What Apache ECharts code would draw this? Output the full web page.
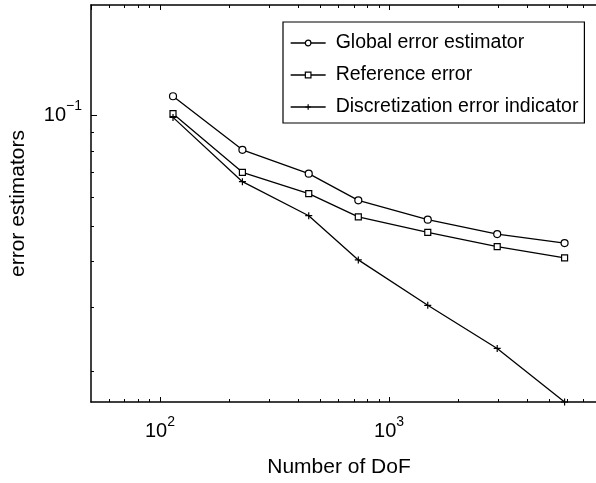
<!DOCTYPE html>
<html>
<head>
<meta charset="utf-8">
<script src="https://cdn.jsdelivr.net/npm/echarts@6/dist/echarts.min.js"></script>
<style>
html, body { margin: 0; padding: 0; background: #fff; }
#chart { width: 596px; height: 483px; }
</style>
</head>
<body>
<div id="chart"></div>
<script>
// values (log-log)
const dof = [114, 229, 446, 734, 1475, 2964, 5834];
const globalEst = [0.1127, 0.0805, 0.0693, 0.0586, 0.0519, 0.0474, 0.0448];
const referenceErr = [0.101, 0.0699, 0.0611, 0.0528, 0.0479, 0.0438, 0.0408];
const discretization = [0.0987, 0.0659, 0.0532, 0.0403, 0.0303, 0.0231, 0.0165];
const seriesNames = ['Global error estimator', 'Reference error', 'Discretization error indicator'];

// minor ticks (log axes)
const xMinorTicks = [60, 70, 80, 90, 200, 300, 400, 500, 600, 700, 800, 900, 2000, 3000, 4000, 5000, 6000, 7000];
const yMinorTicks = [0.02, 0.03, 0.04, 0.05, 0.06, 0.07, 0.08, 0.09];

const X_MIN = 50, X_MAX = 8000;
const Y_MIN = 0.0165, Y_MAX = 0.2;
const FONT = '"Liberation Sans", Arial, Helvetica, sans-serif';

const chart = echarts.init(document.getElementById('chart'));

function powLabel(v) {
  const lg = Math.log10(v);
  const e = Math.round(lg);
  if (Math.abs(lg - e) > 1e-6) return '';
  return '{b|10}{s|' + (e < 0 ? '\u2212' + (-e) : e) + '}';
}

const richLabel = {
  b: { fontSize: 20, fontFamily: FONT, color: '#000', lineHeight: 32, verticalAlign: 'middle' },
  s: { fontSize: 14, fontFamily: FONT, color: '#000', lineHeight: 14, verticalAlign: 'top' },
};

function xTickItem(params, api) {
  const b = api.coord([api.value(0), Y_MIN]);
  const t = api.coord([api.value(0), Y_MAX]);
  const x = Math.round(b[0]) + 0.5;
  return {
    type: 'group',
    children: [
      { type: 'line', shape: { x1: x, y1: b[1], x2: x, y2: b[1] - 3 }, style: { stroke: '#000', lineWidth: 1 } },
      { type: 'line', shape: { x1: x, y1: t[1], x2: x, y2: t[1] + 3 }, style: { stroke: '#000', lineWidth: 1 } },
    ],
  };
}

function yTickItem(params, api) {
  const p = api.coord([X_MIN, api.value(1)]);
  const y = Math.round(p[1]) + 0.5;
  return {
    type: 'line',
    shape: { x1: p[0], y1: y, x2: p[0] + 3, y2: y },
    style: { stroke: '#000', lineWidth: 1 },
  };
}

const lineBase = {
  type: 'line',
  xAxisIndex: 0,
  yAxisIndex: 0,
  symbolSize: 7,
  clip: false,
  z: 3,
  lineStyle: { color: '#000', width: 1.3 },
};

const option = {
  animation: false,
  backgroundColor: '#fff',
  textStyle: { fontFamily: FONT },
  grid: { left: 89, right: -3, top: 5, bottom: 81 },
  legend: {
    data: seriesNames,
    orient: 'vertical',
    left: 283,
    top: 22,
    padding: [11, 6, 6, 7],
    itemGap: 12,
    itemWidth: 35,
    itemHeight: 7,
    borderColor: '#000',
    borderWidth: 1.2,
    backgroundColor: '#fff',
    selectedMode: false,
    itemStyle: { borderWidth: 1.2 },
    lineStyle: { width: 1.3 },
    textStyle: { fontSize: 19.5, fontFamily: FONT, color: '#000', lineHeight: 20, padding: [0, 0, 0, 5] },
  },
  xAxis: [
    {
      type: 'log',
      min: X_MIN,
      max: X_MAX,
      position: 'bottom',
      name: 'Number of DoF',
      nameLocation: 'middle',
      nameGap: 55,
      nameTextStyle: { fontSize: 21, fontFamily: FONT, color: '#000', padding: [0, 9, 0, 0] },
      axisLine: { lineStyle: { color: '#000', width: 1.5 } },
      axisTick: { inside: true, length: 5, lineStyle: { color: '#000' } },
      axisLabel: { margin: 13, formatter: powLabel, rich: richLabel, showMinLabel: false, showMaxLabel: false },
      splitLine: { show: false },
    },
    {
      type: 'log',
      min: X_MIN,
      max: X_MAX,
      position: 'top',
      axisLine: { lineStyle: { color: '#000', width: 1.5 } },
      axisTick: { inside: true, length: 5, lineStyle: { color: '#000' } },
      axisLabel: { show: false },
      splitLine: { show: false },
    },
  ],
  yAxis: [
    {
      type: 'log',
      min: Y_MIN,
      max: Y_MAX,
      name: 'error estimators',
      nameLocation: 'middle',
      nameGap: 62,
      nameTextStyle: { fontSize: 21, fontFamily: FONT, color: '#000' },
      axisLine: { show: true, lineStyle: { color: '#000', width: 1.5 } },
      axisTick: { inside: true, length: 6, lineStyle: { color: '#000' } },
      axisLabel: { margin: 9, formatter: powLabel, rich: richLabel, showMinLabel: false, showMaxLabel: false },
      splitLine: { show: false },
    },
  ],
  series: [
    Object.assign({}, lineBase, {
      name: seriesNames[0],
      data: dof.map((x, i) => [x, globalEst[i]]),
      symbol: 'circle',
      symbolSize: 7,
      itemStyle: { color: '#fff', borderColor: '#000', borderWidth: 1.2 },
    }),
    Object.assign({}, lineBase, {
      name: seriesNames[1],
      data: dof.map((x, i) => [x, referenceErr[i]]),
      symbol: 'rect',
      symbolSize: 6,
      itemStyle: { color: '#fff', borderColor: '#000', borderWidth: 1.2 },
    }),
    Object.assign({}, lineBase, {
      name: seriesNames[2],
      data: dof.map((x, i) => [x, discretization[i]]),
      symbol: 'path://M0,5L10,5M5,0L5,10',
      symbolSize: 7,
      itemStyle: { color: '#000', borderColor: '#000', borderWidth: 1.2 },
    }),
    {
      type: 'custom',
      silent: true,
      clip: false,
      renderItem: xTickItem,
      data: xMinorTicks.map((v) => [v, Y_MIN]),
      z: 1,
    },
    {
      type: 'custom',
      silent: true,
      clip: false,
      renderItem: yTickItem,
      data: yMinorTicks.map((v) => [X_MIN, v]),
      z: 1,
    },
  ],
};

chart.setOption(option);
</script>
</body>
</html>
